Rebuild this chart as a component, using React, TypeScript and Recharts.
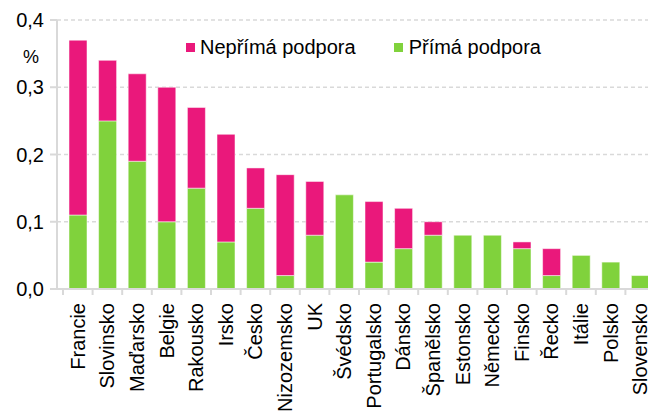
import React from 'react';
import { BarChart, Bar, XAxis, YAxis, CartesianGrid, Legend } from 'recharts';

const countries = [
  'Francie', 'Slovinsko', 'Maďarsko', 'Belgie', 'Rakousko', 'Irsko', 'Česko',
  'Nizozemsko', 'UK', 'Švédsko', 'Portugalsko', 'Dánsko', 'Španělsko',
  'Estonsko', 'Německo', 'Finsko', 'Řecko', 'Itálie', 'Polsko', 'Slovensko',
];
const direct = [0.11, 0.25, 0.19, 0.1, 0.15, 0.07, 0.12, 0.02, 0.08, 0.14, 0.04, 0.06, 0.08, 0.08, 0.08, 0.06, 0.02, 0.05, 0.04, 0.02];
const indirect = [0.26, 0.09, 0.13, 0.2, 0.12, 0.16, 0.06, 0.15, 0.08, 0, 0.09, 0.06, 0.02, 0, 0, 0.01, 0.04, 0, 0, 0];
const yTicks = [0, 0.1, 0.2, 0.3, 0.4];

const PINK = '#EA187B';
const GREEN = '#80D23C';
const AXIS = '#D9D9D9';
const FONT = '"Liberation Sans", Arial, sans-serif';

// layout
const W = 662;
const H = 412;
const Y_AXIS_W = 57;
const PAD_L = 6;
const PAD_R = 7;
const BAND = (W - Y_AXIS_W - PAD_L - PAD_R) / countries.length;

const data = countries.map((c, i) => ({ name: c, direct: direct[i], indirect: indirect[i] }));

const CountryTick = (props: any) => {
  const { x, y, payload } = props;
  const bx = x - BAND / 2;
  const tx = x + 7;
  const ty = y + 14;
  return (
    <g>
      <line x1={bx} y1={y} x2={bx} y2={y + 6} stroke={AXIS} strokeWidth={2} />
      <text
        x={tx}
        y={ty}
        transform={`rotate(-90, ${tx}, ${ty})`}
        textAnchor="end"
        fontSize={20}
        fontFamily={FONT}
        fill="#000"
      >
        {payload.value}
      </text>
    </g>
  );
};

const LegendContent = () => (
  <div style={{ display: 'flex', fontFamily: FONT, fontSize: 20, color: '#000', whiteSpace: 'nowrap' }}>
    <div style={{ display: 'flex', alignItems: 'center', marginRight: 38 }}>
      <span style={{ width: 9, height: 9, background: PINK, display: 'inline-block', marginRight: 5 }} />
      Nepřímá podpora
    </div>
    <div style={{ display: 'flex', alignItems: 'center' }}>
      <span style={{ width: 9, height: 9, background: GREEN, display: 'inline-block', marginRight: 6 }} />
      Přímá podpora
    </div>
  </div>
);

export default function App() {
  return (
    <div style={{ position: 'absolute', left: 0, top: 0, width: 648, height: 412, overflow: 'hidden', background: '#fff' }}>
      <BarChart width={W} height={H} data={data} margin={{ top: 20, right: 0, left: 0, bottom: 0 }} barSize={18}>
        <CartesianGrid vertical={false} stroke={AXIS} strokeDasharray="4 3" strokeWidth={1.5} />
        <XAxis
          dataKey="name"
          interval={0}
          height={123}
          padding={{ left: PAD_L, right: PAD_R }}
          axisLine={{ stroke: AXIS, strokeWidth: 2 }}
          tickLine={false}
          tickSize={0}
          tickMargin={0}
          tick={<CountryTick />}
        />
        <YAxis
          width={Y_AXIS_W}
          domain={[0, 0.4]}
          ticks={yTicks}
          interval={0}
          axisLine={{ stroke: AXIS, strokeWidth: 2 }}
          tickLine={{ stroke: AXIS, strokeWidth: 2 }}
          tickSize={7}
          tickMargin={6}
          tick={{ fontSize: 20, fontFamily: FONT, fill: '#000' }}
          tickFormatter={(v: number) => v.toFixed(1).replace('.', ',')}
          label={() => (
            <text x={31} y={63} textAnchor="middle" fontSize={18} fontFamily={FONT} fill="#000">%</text>
          )}
        />
        <Legend
          layout="horizontal"
          verticalAlign="middle"
          align="center"
          wrapperStyle={{ top: 36, left: 186, width: 'auto' }}
          content={<LegendContent />}
        />
        <Bar dataKey="direct" stackId="a" fill={GREEN} stroke="rgba(255,255,255,0.5)" isAnimationActive={false} />
        <Bar dataKey="indirect" stackId="a" fill={PINK} stroke="rgba(255,255,255,0.5)" isAnimationActive={false} />
      </BarChart>
    </div>
  );
}
